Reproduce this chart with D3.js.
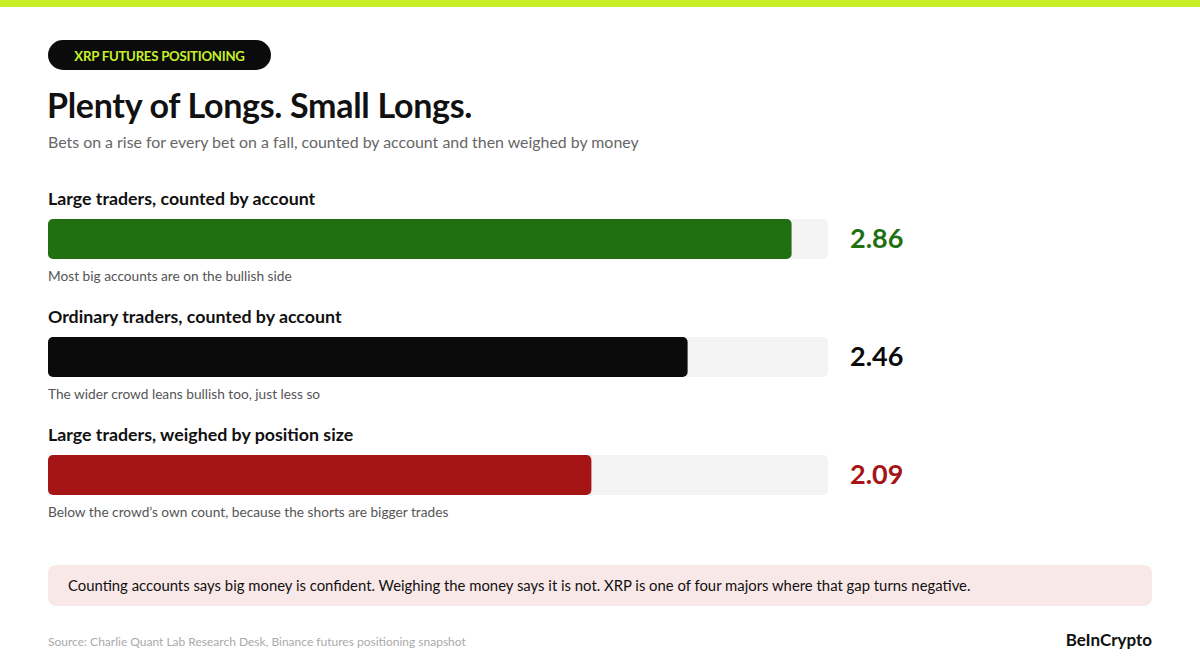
<!DOCTYPE html>
<html><head><meta charset="utf-8">
<script src="https://cdn.jsdelivr.net/npm/d3@7"></script>
<style>
html,body{margin:0;padding:0;background:#fff;}
svg{display:block;font-family:Lato,"Noto Sans",sans-serif;}
</style></head>
<body>
<svg id="chart" width="1200" height="660"></svg>
<script>
const categories = ["Large traders, counted by account","Ordinary traders, counted by account","Large traders, weighed by position size"];
const values = [2.86, 2.46, 2.09];
const notes = ["Most big accounts are on the bullish side","The wider crowd leans bullish too, just less so","Below the crowd\u2019s own count, because the shorts are bigger trades"];
const colors = ["#207012","#0b0b0b","#a51515"];
const domainMax = 3;

const svg = d3.select("#chart");
svg.append("rect").attr("x",0).attr("y",0).attr("width",1200).attr("height",7).attr("fill","#c8f02a");

svg.append("rect").attr("x",48).attr("y",40).attr("width",223).attr("height",30).attr("rx",15).attr("fill","#0b0b0b");
svg.append("text").attr("x",159.5).attr("y",60.5).attr("text-anchor","middle").attr("fill","#c8f02a")
  .attr("font-size",13.2).attr("letter-spacing",-0.25).attr("font-weight",700).text("XRP FUTURES POSITIONING");

svg.append("text").attr("x",47).attr("y",118).attr("font-size",34).attr("letter-spacing",-0.3).attr("font-weight",700).attr("fill","#111").text("Plenty of Longs. Small Longs.");
svg.append("text").attr("x",48).attr("y",148).attr("font-size",15.9).attr("fill","#666").text("Bets on a rise for every bet on a fall, counted by account and then weighed by money");

const x = d3.scaleLinear().domain([0,domainMax]).range([48,828]);
const rowY = d3.scalePoint().domain(categories).range([219,455]);

const g = svg.selectAll("g.row").data(categories).join("g").attr("class","row")
  .attr("transform",d=>`translate(0,${rowY(d)})`);
g.append("text").attr("x",48).attr("y",-14).attr("font-size",17.8).attr("font-weight",700).attr("fill","#111").text(d=>d);
g.append("rect").attr("x",x(0)).attr("y",0).attr("width",x(domainMax)-x(0)).attr("height",40).attr("rx",5).attr("fill","#f3f3f3");
g.append("rect").attr("x",x(0)).attr("y",0).attr("width",(d,i)=>x(values[i])-x(0)).attr("height",40).attr("rx",5).attr("fill",(d,i)=>colors[i]);
g.append("text").attr("x",850).attr("y",29).attr("font-size",27).attr("font-weight",700).attr("fill",(d,i)=>colors[i]).text((d,i)=>values[i].toFixed(2));
g.append("text").attr("x",48).attr("y",62).attr("font-size",13.7).attr("fill","#555").text((d,i)=>notes[i]);

svg.append("rect").attr("x",48).attr("y",565).attr("width",1104).attr("height",41).attr("rx",8).attr("fill","#f9e8e8");
svg.append("text").attr("x",68).attr("y",591).attr("font-size",14.87).attr("fill","#111")
  .text("Counting accounts says big money is confident. Weighing the money says it is not. XRP is one of four majors where that gap turns negative.");

svg.append("text").attr("x",48).attr("y",646).attr("font-size",12).attr("fill","#aaa").text("Source: Charlie Quant Lab Research Desk, Binance futures positioning snapshot");
svg.append("text").attr("x",1152).attr("y",646).attr("text-anchor","end").attr("font-size",17).attr("font-weight",700).attr("fill","#111").text("BeInCrypto");
</script>
</body></html>
